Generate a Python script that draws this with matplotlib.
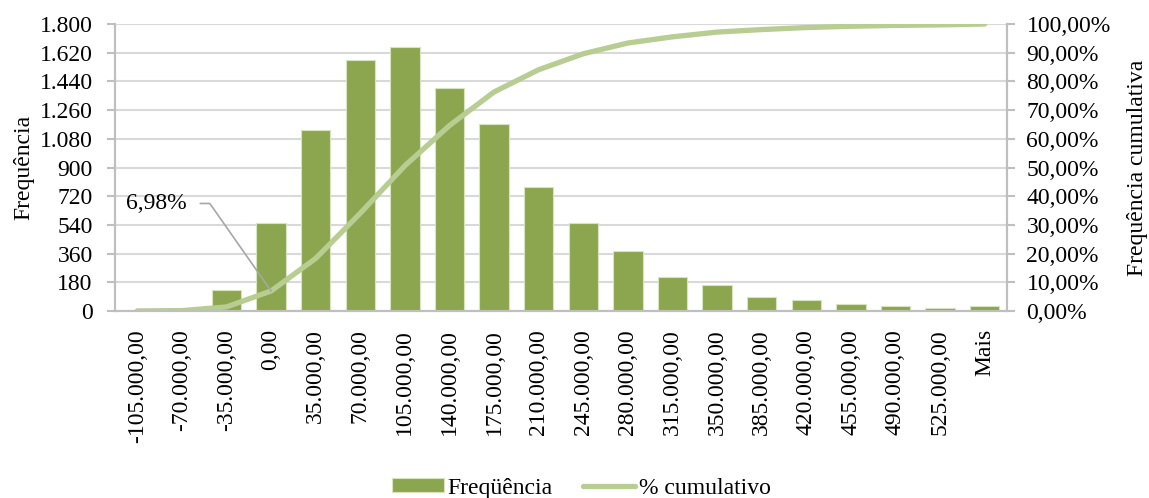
import numpy as np
import matplotlib.pyplot as plt
from matplotlib.ticker import FuncFormatter, MultipleLocator

# Classes do histograma (limites superiores) e frequências
classes = ['-105.000,00', '-70.000,00', '-35.000,00', '0,00', '35.000,00',
           '70.000,00', '105.000,00', '140.000,00', '175.000,00', '210.000,00',
           '245.000,00', '280.000,00', '315.000,00', '350.000,00', '385.000,00',
           '420.000,00', '455.000,00', '490.000,00', '525.000,00', 'Mais']
frequencias = [3, 10, 130, 555, 1135, 1575, 1655, 1400, 1170, 775,
               555, 375, 215, 165, 88, 70, 45, 30, 18, 31]

cor_barra = '#8BA64E'
cor_linha = '#B7CD92'
cor_eixo = '#BFBFBF'
cor_grade = '#D9D9D9'

plt.rcParams['font.family'] = ['Liberation Serif', 'DejaVu Serif']
plt.rcParams['font.size'] = 17


def fmt_milhar(v, pos):
    return f'{int(round(v)):,}'.replace(',', '.')


def fmt_pct(v, pos):
    return f'{v:.2f}'.replace('.', ',') + '%'


def graficar(classes, freq):
    freq = np.array(freq, dtype=float)
    cumulativo = np.cumsum(freq) / freq.sum() * 100
    x = np.arange(len(classes))

    fig, ax = plt.subplots(figsize=(11.49, 4.98), dpi=100)
    fig.subplots_adjust(left=0.1001, right=0.8764, top=0.9518, bottom=0.3755)

    barras = ax.bar(x, freq, width=0.66, color=cor_barra, edgecolor='#D7E4BD',
                    linewidth=0.8, zorder=2, label='Freqüência')
    ax.set_xlim(-0.5, len(classes) - 0.5)
    ax.set_ylim(0, 1800)
    ax.yaxis.set_major_locator(MultipleLocator(180))
    ax.yaxis.set_major_formatter(FuncFormatter(fmt_milhar))
    ax.set_xticks(x)
    ax.set_xticklabels(classes, rotation=90)
    ax.tick_params(axis='x', length=0, pad=13)
    ax.tick_params(axis='y', length=6, color=cor_eixo, width=1.5, pad=10)
    ax.grid(axis='y', color=cor_grade, linewidth=1.5, zorder=0)
    ax.set_axisbelow(True)
    ax.set_ylabel('Frequência', labelpad=4)

    ax2 = ax.twinx()
    linha, = ax2.plot(x, cumulativo, color=cor_linha, linewidth=3.8,
                      solid_capstyle='round', label='% cumulativo')
    ax2.set_ylim(0, 100)
    ax2.yaxis.set_major_locator(MultipleLocator(10))
    ax2.yaxis.set_major_formatter(FuncFormatter(fmt_pct))
    ax2.tick_params(axis='y', length=6, color=cor_eixo, width=1.5, pad=8)
    ax2.set_ylabel('Frequência cumulativa', labelpad=12)

    for a in (ax, ax2):
        a.spines['top'].set_visible(False)
        for lado in ('left', 'right', 'bottom'):
            a.spines[lado].set_color(cor_eixo)
            a.spines[lado].set_linewidth(1.5)

    # Rótulo do valor cumulativo na classe 0,00
    i = classes.index('0,00')
    rotulo = f'{cumulativo[i]:.2f}'.replace('.', ',') + '%'
    ax2.annotate(rotulo, xy=(i, cumulativo[i]), xytext=(-61, 63),
                 textcoords='offset points', ha='right', va='center',
                 arrowprops=dict(arrowstyle='-', color='#A6A6A6', lw=1.2,
                                 shrinkA=8, shrinkB=0,
                                 connectionstyle='angle,angleA=0,angleB=125,rad=0'))

    fig.legend([barras, linha], ['Freqüência', '% cumulativo'],
               loc='center', bbox_to_anchor=(0.506, 0.02), ncol=2,
               frameon=False, handlelength=2.2, handleheight=0.55,
               columnspacing=1.3, handletextpad=0.15)

    fig.savefig('out.png', dpi=100)


def main():
    graficar(classes, frequencias)


if __name__ == '__main__':
    main()
